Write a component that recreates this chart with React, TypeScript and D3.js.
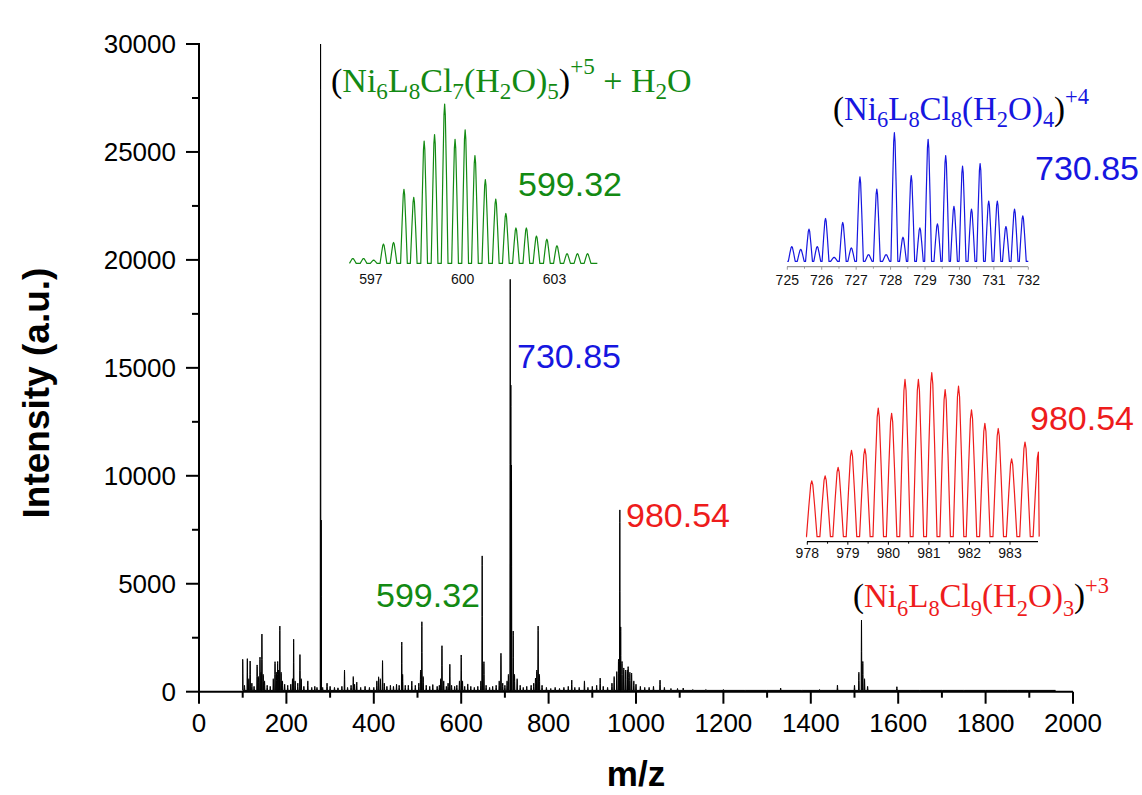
import React from 'react';
import * as d3 from 'd3';

const W = 1142;
const H = 795;

// Overview ESI-MS spectrum: peak centroids (m/z) and intensities (a.u.)
const spectrumMz = [
  100, 104, 110.6, 114, 117, 121, 126, 133, 136, 139.6, 142, 144, 147, 150, 156, 163, 170, 174, 177, 180,
  182, 185, 188, 191, 196, 203, 210, 214, 216.6, 220, 226, 231, 234, 240, 249, 258, 265, 270, 278.2, 279.6,
  283, 293, 300, 310, 318, 327, 333, 340, 348, 353, 356, 361, 370, 380, 390, 400, 407, 411, 415, 420,
  424, 430, 438, 445, 452, 458, 464, 466, 472, 479, 487, 495, 503, 507, 510, 513, 520, 528, 535, 545,
  550, 553, 556, 560, 566, 570, 574, 578, 585, 590, 596, 600, 603, 608, 615, 622, 630, 638, 645, 648,
  652, 657, 665, 672, 680, 687, 691, 695, 700, 705, 708, 712.2, 713.6, 715, 719, 722, 728, 735, 742, 750,
  760, 766, 770, 773, 776, 779, 785, 795, 805, 815, 825, 835, 845, 853, 860, 870, 882, 890, 900, 910,
  918, 925, 935, 945, 950, 956, 960, 963, 965, 968, 972, 976, 980, 982, 986, 990, 995, 1000, 1010, 1020,
  1030, 1040, 1055, 1065, 1080, 1095, 1108, 1130, 1160, 1200, 1250, 1300, 1331, 1380, 1420, 1461, 1500, 1510, 1516, 1519,
  1523, 1530, 1597, 1650, 1700, 1750, 1800, 1850, 1900,
];
const spectrumIntensity = [
  1500, 300, 1530, 600, 1420, 400, 250, 1240, 700, 1600, 900, 2670, 800, 500, 300, 250, 600, 1390, 900, 1400,
  1000, 3040, 900, 500, 350, 300, 350, 600, 2430, 500, 400, 1720, 600, 250, 500, 200, 250, 200, 30000, 7950,
  200, 400, 250, 200, 180, 250, 1000, 200, 300, 700, 350, 450, 200, 250, 200, 200, 500, 690, 600, 1440,
  400, 250, 300, 250, 350, 300, 2300, 800, 300, 300, 490, 300, 400, 1000, 3240, 700, 300, 250, 330, 250,
  300, 600, 2130, 500, 250, 400, 1270, 300, 250, 300, 500, 1700, 500, 250, 360, 250, 200, 250, 500, 6290,
  1390, 300, 200, 250, 300, 500, 1780, 400, 300, 500, 800, 19100, 14200, 10500, 2810, 800, 600, 300, 200, 250,
  300, 400, 630, 1000, 3040, 800, 300, 200, 150, 200, 150, 200, 250, 540, 200, 200, 500, 200, 250, 300,
  630, 250, 200, 400, 700, 930, 1500, 8420, 3000, 1400, 1100, 1000, 1000, 1160, 900, 860, 500, 350, 250, 200,
  200, 250, 540, 200, 150, 150, 170, 100, 100, 100, 80, 80, 170, 80, 100, 310, 300, 900, 3320, 1400,
  600, 250, 230, 80, 80, 80, 80, 80, 80,
];
const spectrumStart = 100;
const spectrumEnd = 1960;
const spectrumBaseline = 60;

const xTickValues = [0, 200, 400, 600, 800, 1000, 1200, 1400, 1600, 1800, 2000];
const yTickValues = [0, 5000, 10000, 15000, 20000, 25000, 30000];

// Isotope envelope, [Ni6L8Cl7(H2O)5]5+ + H2O (relative intensity, %)
const greenMz = [
  596.41, 596.76, 597.09, 597.41, 597.74, 598.08, 598.40, 598.74, 599.08, 599.41, 599.75, 600.08,
  600.40, 600.74, 601.08, 601.41, 601.74, 602.08, 602.41, 602.75, 603.08, 603.41, 603.75, 604.08,
];
const greenRel = [4, 4, 3, 13, 14, 47, 42, 77, 81, 100, 78, 84, 68, 53, 41, 32, 23, 23, 18, 16, 12, 7, 7, 7];
const greenTicks = [597, 600, 603];

// Isotope envelope, [Ni6L8Cl8(H2O)4]4+
const blueMz = [
  725.13, 725.39, 725.63, 725.87, 726.11, 726.36, 726.61, 726.86, 727.11, 727.36, 727.60, 727.87, 728.11, 728.36,
  728.60, 728.85, 729.09, 729.36, 729.60, 729.84, 730.09, 730.35, 730.60, 730.85, 731.10, 731.35, 731.60, 731.84,
];
const blueRel = [15, 13, 28, 15, 36, 7, 33, 14, 67, 9, 58, 9, 100, 22, 68, 29, 95, 32, 83, 45, 75, 43, 77, 49, 49, 30, 43, 38];
const blueTicks = [725, 726, 727, 728, 729, 730, 731, 732];

// Isotope envelope, [Ni6L8Cl9(H2O)3]3+
const redMz = [
  978.11, 978.44, 978.76, 979.09, 979.42, 979.75, 980.08, 980.41, 980.74, 981.07, 981.40, 981.73,
  982.05, 982.38, 982.71, 983.04, 983.37, 983.70,
];
const redRel = [36, 39, 44, 54, 55, 79, 76, 96, 96, 100, 90, 92, 78, 70, 67, 49, 59, 53];
const redTicks = [978, 979, 980, 981, 982, 983];

const GREEN = '#138a13';
const BLUE = '#1616e0';
const RED = '#ee1c1c';
const SANS = 'Liberation Sans, Arial, Helvetica, sans-serif';
const SERIF = 'Liberation Serif, Times New Roman, serif';

type Pt = [number, number];

// Builds a profile trace (baseline between peaks, a narrow rounded spike per centroid)
function profile(mz: number[], val: number[], base: number, hw: number, start: number, end: number): Pt[] {
  const pts: Pt[] = [[start, base]];
  mz.forEach((m, i) => {
    const h = val[i] - base;
    pts.push([m - hw, base]);
    pts.push([m - hw * 0.55, base + h * 0.55]);
    pts.push([m - hw * 0.2, base + h * 0.93]);
    pts.push([m, val[i]]);
    pts.push([m + hw * 0.2, base + h * 0.93]);
    pts.push([m + hw * 0.55, base + h * 0.55]);
    pts.push([m + hw, base]);
  });
  pts.push([end, base]);
  return pts.filter((p) => p[0] >= start && p[0] <= end).sort((a, b) => a[0] - b[0]);
}

type Part = [string, 'n' | 'b' | 'p', string];

function Formula({ x, y, size, parts, sub = 0.24, sup = -0.5 }: { x: number; y: number; size: number; parts: Part[]; sub?: number; sup?: number }) {
  let cur = 0;
  return (
    <text x={x} y={y} fontFamily={SERIF} fontSize={size}>
      {parts.map(([t, lvl, fill], i) => {
        const target = lvl === 'b' ? size * sub : lvl === 'p' ? size * sup : 0;
        const dy = target - cur;
        cur = target;
        return (
          <tspan key={i} dy={dy} fill={fill} fontSize={lvl === 'n' ? size : size * 0.68}>
            {t}
          </tspan>
        );
      })}
    </text>
  );
}

function Inset({
  mz, rel, ticks, color, x0, x1, pxPerDa, refMz, refX, axisY, topY, base, start, end, axisColor, hw, labelY,
}: {
  mz: number[]; rel: number[]; ticks: number[]; color: string; x0: number; x1: number; pxPerDa: number; refMz: number; refX: number;
  axisY: number; topY: number; base: number; start: number; end: number; axisColor: string | null; hw: number; labelY: number;
}) {
  const x = d3.scaleLinear().domain([refMz, refMz + 1]).range([refX, refX + pxPerDa]);
  const y = d3.scaleLinear().domain([0, 100]).range([axisY, topY]);
  const line = d3.line<Pt>().x((d) => x(d[0])).y((d) => y(d[1]));
  const pts = profile(mz, rel, base, hw, start, end);
  const minor = axisColor ? d3.range(ticks[0], ticks[ticks.length - 1] + 0.01, 0.5) : [];
  return (
    <g>
      {axisColor && <line x1={x0} x2={x1} y1={axisY} y2={axisY} stroke={axisColor} strokeWidth={1.2} />}
      {minor.map((t) => (
        <line key={t} x1={x(t)} x2={x(t)} y1={axisY} y2={axisY + (Number.isInteger(t) ? 3 : 2)} stroke={axisColor as string} strokeWidth={1} />
      ))}
      <path d={line(pts) as string} fill="none" stroke={color} strokeWidth={1.2} strokeLinejoin="round" />
      {ticks.map((t) => (
        <text key={t} x={x(t)} y={labelY} textAnchor="middle" fontFamily={SANS} fontSize={14} fill="#111">
          {t}
        </text>
      ))}
    </g>
  );
}

export default function App() {
  const x = d3.scaleLinear().domain([0, 2000]).range([199, 1073]);
  const y = d3.scaleLinear().domain([0, 30000]).range([691.7, 44]);

  const mainPts = profile(spectrumMz, spectrumIntensity, spectrumBaseline, 0.8, spectrumStart, spectrumEnd);
  const area = d3
    .area<Pt>()
    .x((d) => x(d[0]))
    .y0(y(0))
    .y1((d) => y(d[1]));
  const line = d3.line<Pt>().x((d) => x(d[0])).y((d) => y(d[1]));

  const xMinor = d3.range(100, 2000, 200);
  const yMinor = d3.range(2500, 30000, 5000);

  return (
    <svg width={W} height={H} style={{ position: 'absolute', left: 0, top: 0, background: '#fff' }}>
      <rect width={W} height={H} fill="#fff" />

      {/* spectrum */}
      <path d={area(mainPts) as string} fill="#000" />
      <path d={line(mainPts) as string} fill="none" stroke="#000" strokeWidth={1} />

      {/* axes */}
      <line x1={199} x2={199} y1={43} y2={y(0)} stroke="#000" strokeWidth={2} />
      <line x1={199} x2={1073} y1={y(0)} y2={y(0)} stroke="#000" strokeWidth={2} />
      {yTickValues.map((t) => (
        <g key={t}>
          <line x1={186} x2={199} y1={y(t)} y2={y(t)} stroke="#000" strokeWidth={2} />
          <text x={176} y={y(t)} dy="0.35em" textAnchor="end" fontFamily={SANS} fontSize={26} fill="#000">
            {t}
          </text>
        </g>
      ))}
      {yMinor.map((t) => (
        <line key={t} x1={192} x2={199} y1={y(t)} y2={y(t)} stroke="#000" strokeWidth={2} />
      ))}
      {xTickValues.map((t) => (
        <g key={t}>
          <line x1={x(t)} x2={x(t)} y1={y(0)} y2={y(0) + 12} stroke="#000" strokeWidth={2} />
          <text x={x(t)} y={732} textAnchor="middle" fontFamily={SANS} fontSize={26} fill="#000">
            {t}
          </text>
        </g>
      ))}
      {xMinor.map((t) => (
        <line key={t} x1={x(t)} x2={x(t)} y1={y(0)} y2={y(0) + 6} stroke="#000" strokeWidth={2} />
      ))}

      {/* axis titles */}
      <text transform="translate(49,393) rotate(-90)" textAnchor="middle" fontFamily={SANS} fontWeight="bold" fontSize={37} fill="#000">
        Intensity (a.u.)
      </text>
      <text x={636} y={786} textAnchor="middle" fontFamily={SANS} fontWeight="bold" fontSize={35} fill="#000">
        m/z
      </text>

      {/* peak labels */}
      <text x={376} y={607} fontFamily={SANS} fontSize={34} fill={GREEN}>599.32</text>
      <text x={517} y={368} fontFamily={SANS} fontSize={34} fill={BLUE}>730.85</text>
      <text x={626} y={527} fontFamily={SANS} fontSize={34} fill={RED}>980.54</text>

      {/* isotope insets */}
      <Inset mz={greenMz} rel={greenRel} ticks={greenTicks} color={GREEN} x0={350} x1={597} pxPerDa={30.6} refMz={600} refX={462.7}
        axisY={265} topY={104} base={1} start={596.3} end={604.4} axisColor={null} hw={0.11} labelY={284} />
      <Inset mz={blueMz} rel={blueRel} ticks={blueTicks} color={BLUE} x0={787} x1={1028} pxPerDa={34.43} refMz={725} refX={787.3}
        axisY={266.7} topY={132.7} base={4} start={725.0} end={732.0} axisColor="#999" hw={0.1} labelY={285} />
      <Inset mz={redMz} rel={redRel} ticks={redTicks} color={RED} x0={807} x1={1038} pxPerDa={40.54} refMz={978} refX={807.3}
        axisY={541.7} topY={372.7} base={3} start={977.97} end={983.72} axisColor="#000" hw={0.13} labelY={558} />
      <text x={518} y={196} fontFamily={SANS} fontSize={34} fill={GREEN}>599.32</text>
      <text x={1035} y={180} fontFamily={SANS} fontSize={34} fill={BLUE}>730.85</text>
      <text x={1030} y={430} fontFamily={SANS} fontSize={34} fill={RED}>980.54</text>

      {/* species assignments */}
      <Formula x={331} y={92} size={34} sub={0.2} sup={-0.54}
        parts={[
          ['(', 'n', '#000'], ['Ni', 'n', GREEN], ['6', 'b', GREEN], ['L', 'n', GREEN], ['8', 'b', GREEN], ['Cl', 'n', GREEN], ['7', 'b', GREEN],
          ['(H', 'n', GREEN], ['2', 'b', GREEN], ['O)', 'n', GREEN], ['5', 'b', GREEN], [')', 'n', '#000'], ['+5', 'p', GREEN],
          [' + H', 'n', GREEN], ['2', 'b', GREEN], ['O', 'n', GREEN],
        ]} />
      <Formula x={833} y={120} size={33} sub={0.22} sup={-0.5}
        parts={[
          ['(', 'n', '#000'], ['Ni', 'n', BLUE], ['6', 'b', BLUE], ['L', 'n', BLUE], ['8', 'b', BLUE], ['Cl', 'n', BLUE], ['8', 'b', BLUE],
          ['(H', 'n', BLUE], ['2', 'b', BLUE], ['O)', 'n', BLUE], ['4', 'b', BLUE], [')', 'n', '#000'], ['+4', 'p', BLUE],
        ]} />
      <Formula x={853} y={607} size={33} sub={0.28} sup={-0.42}
        parts={[
          ['(', 'n', '#000'], ['Ni', 'n', RED], ['6', 'b', RED], ['L', 'n', RED], ['8', 'b', RED], ['Cl', 'n', RED], ['9', 'b', RED],
          ['(H', 'n', RED], ['2', 'b', RED], ['O)', 'n', RED], ['3', 'b', RED], [')', 'n', '#000'], ['+3', 'p', RED],
        ]} />
    </svg>
  );
}
